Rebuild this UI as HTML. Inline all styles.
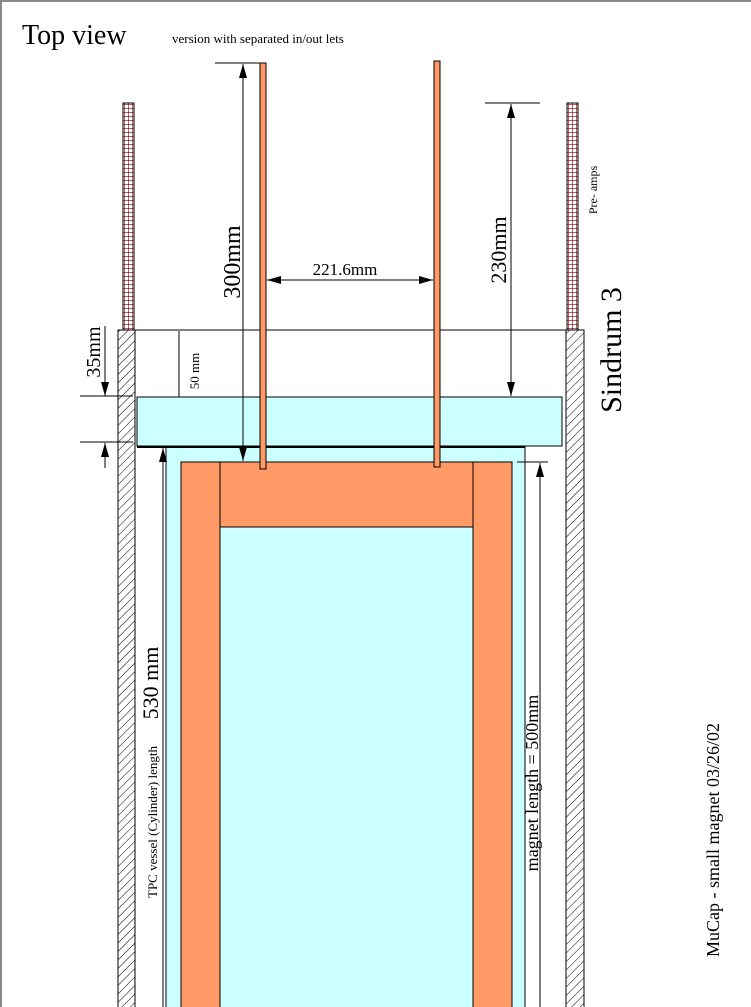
<!DOCTYPE html>
<html><head><meta charset="utf-8"><style>html,body{margin:0;padding:0;background:#fff}svg{display:block}</style></head>
<body>
<svg width="751" height="1007" viewBox="0 0 751 1007" xmlns="http://www.w3.org/2000/svg" font-family="Liberation Serif, serif">
<defs>
<pattern id="hatch" patternUnits="userSpaceOnUse" width="6" height="6" patternTransform="rotate(45)">
<rect width="6" height="6" fill="#fff"/><line x1="0" y1="0" x2="0" y2="6" stroke="#000" stroke-width="1"/></pattern>
<pattern id="grid" patternUnits="userSpaceOnUse" width="4" height="4">
<rect width="4" height="4" fill="#fff"/><path d="M0 0H4M0 0V4" stroke="#800000" stroke-width="1.2"/></pattern>
<marker id="a" markerWidth="14" markerHeight="8" refX="14" refY="4" orient="auto-start-reverse" markerUnits="userSpaceOnUse" viewBox="0 0 14 8"><path d="M0 0L14 4L0 8Z" fill="#000"/></marker>
</defs>
<rect x="0" y="0" width="751" height="1007" fill="#fff"/>
<path d="M1 1007V1H751" fill="none" stroke="#888" stroke-width="2"/>
<text x="22" y="44" font-size="28">Top view</text>
<text x="172" y="43" font-size="13">version with separated in/out lets</text>
<rect x="123" y="103" width="11" height="227" fill="url(#grid)" stroke="#000"/>
<rect x="567" y="103" width="11" height="227" fill="url(#grid)" stroke="#000"/>
<rect x="118" y="330" width="17" height="680" fill="url(#hatch)" stroke="#000"/>
<rect x="566" y="330" width="18" height="680" fill="url(#hatch)" stroke="#000"/>
<line x1="118" y1="330" x2="584" y2="330" stroke="#000"/>
<rect x="137" y="397" width="425" height="49" fill="#ccffff" stroke="#000"/>
<rect x="166" y="447" width="359" height="570" fill="#ccffff" stroke="#000"/>
<line x1="137" y1="447" x2="525" y2="447" stroke="#000" stroke-width="2"/>
<rect x="181" y="462" width="331" height="560" fill="#ff9966" stroke="#000"/>
<rect x="220" y="527" width="253" height="500" fill="#ccffff" stroke="#000"/>
<line x1="220" y1="462" x2="220" y2="527" stroke="#000"/>
<line x1="473" y1="462" x2="473" y2="527" stroke="#000"/>
<rect x="260" y="63" width="6" height="406" fill="#ff9966" stroke="#000"/>
<rect x="434" y="61" width="6" height="406" fill="#ff9966" stroke="#000"/>
<line x1="215" y1="63" x2="260" y2="63" stroke="#000"/>
<line x1="243" y1="64" x2="243" y2="461" stroke="#000" marker-start="url(#a)" marker-end="url(#a)"/>
<line x1="485" y1="103" x2="540" y2="103" stroke="#000"/>
<line x1="511" y1="104" x2="511" y2="396" stroke="#000" marker-start="url(#a)" marker-end="url(#a)"/>
<line x1="267" y1="280" x2="433" y2="280" stroke="#000" marker-start="url(#a)" marker-end="url(#a)"/>
<line x1="80" y1="396" x2="133" y2="396" stroke="#000"/>
<line x1="80" y1="442" x2="133" y2="442" stroke="#000"/>
<line x1="105" y1="326" x2="105" y2="396" stroke="#000" marker-end="url(#a)"/>
<line x1="105" y1="468" x2="105" y2="443" stroke="#000" marker-end="url(#a)"/>
<line x1="179" y1="331" x2="179" y2="397" stroke="#000"/>
<line x1="163" y1="1007" x2="163" y2="448" stroke="#000" marker-end="url(#a)"/>
<line x1="517" y1="462" x2="548" y2="462" stroke="#000"/>
<line x1="540" y1="1007" x2="540" y2="463" stroke="#000" marker-end="url(#a)"/>
<text transform="translate(240,262) rotate(-90)" text-anchor="middle" font-size="24">300mm</text>
<text transform="translate(506,250) rotate(-90)" text-anchor="middle" font-size="22">230mm</text>
<text x="345" y="275" text-anchor="middle" font-size="17">221.6mm</text>
<text transform="translate(100,352) rotate(-90)" text-anchor="middle" font-size="20">35mm</text>
<text transform="translate(199,371) rotate(-90)" text-anchor="middle" font-size="13">50 mm</text>
<text transform="translate(158,683) rotate(-90)" text-anchor="middle" font-size="22">530 mm</text>
<text transform="translate(157,822) rotate(-90)" text-anchor="middle" font-size="13">TPC vessel (Cylinder) length</text>
<text transform="translate(538,783) rotate(-90)" text-anchor="middle" font-size="18">magnet length = 500mm</text>
<text transform="translate(621,350) rotate(-90)" text-anchor="middle" font-size="30">Sindrum 3</text>
<text transform="translate(597,190) rotate(-90)" text-anchor="middle" font-size="12">Pre- amps</text>
<text transform="translate(719,840) rotate(-90)" text-anchor="middle" font-size="18">MuCap -  small magnet 03/26/02</text>
</svg>
</body></html>
